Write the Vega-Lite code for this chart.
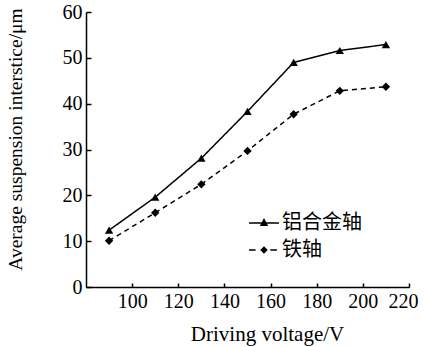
{
  "$schema": "https://vega.github.io/schema/vega-lite/v6.json",
  "autosize": "none",
  "width": 323,
  "height": 275,
  "padding": {"left": 86, "top": 12, "right": 15, "bottom": 60},
  "background": "white",
  "config": {"view": {"stroke": null}},
  "data": {"values": [
    {"series": "铝合金轴", "voltage": 90, "value": 12.4},
    {"series": "铝合金轴", "voltage": 110, "value": 19.6},
    {"series": "铝合金轴", "voltage": 130, "value": 28.1},
    {"series": "铝合金轴", "voltage": 150, "value": 38.3},
    {"series": "铝合金轴", "voltage": 170, "value": 49.0},
    {"series": "铝合金轴", "voltage": 190, "value": 51.6},
    {"series": "铝合金轴", "voltage": 210, "value": 52.9},
    {"series": "铁轴", "voltage": 90, "value": 10.1},
    {"series": "铁轴", "voltage": 110, "value": 16.2},
    {"series": "铁轴", "voltage": 130, "value": 22.4},
    {"series": "铁轴", "voltage": 150, "value": 29.7},
    {"series": "铁轴", "voltage": 170, "value": 37.7},
    {"series": "铁轴", "voltage": 190, "value": 42.8},
    {"series": "铁轴", "voltage": 210, "value": 43.7}
  ]},
  "encoding": {
    "x": {"field": "voltage", "type": "quantitative",
      "scale": {"domain": [80, 220], "nice": false, "zero": false},
      "axis": {"title": "Driving voltage/V", "values": [100, 120, 140, 160, 180, 200, 220],
        "grid": false, "domainColor": "black", "domainWidth": 1.5, "tickColor": "black", "tickWidth": 1.5,
        "tickSize": -4, "labelPadding": 8, "labelFont": "Liberation Serif", "labelFontSize": 20, "labelColor": "black",
        "labelFlush": true, "labelFlushOffset": 9,
        "titleFont": "Liberation Serif", "titleFontSize": 21, "titleFontWeight": "normal", "titleColor": "black",
        "titleX": 181, "titleY": 36}},
    "y": {"field": "value", "type": "quantitative",
      "scale": {"domain": [0, 60], "nice": false},
      "axis": {"title": "Average suspension interstice/μm", "values": [0, 10, 20, 30, 40, 50, 60],
        "grid": false, "domainColor": "black", "domainWidth": 1.5, "tickColor": "black", "tickWidth": 1.5,
        "tickSize": -5, "labelPadding": 9, "labelFont": "Liberation Serif", "labelFontSize": 20, "labelColor": "black",
        "labelFlush": false,
        "titleFont": "Liberation Serif", "titleFontSize": 19.5, "titleFontWeight": "normal", "titleColor": "black",
        "titleX": -61, "titleY": 127}}
  },
  "resolve": {"scale": {"shape": "independent"}, "legend": {"shape": "independent"}},
  "layer": [
    {
      "mark": {"type": "line", "color": "black", "strokeWidth": 1.5},
      "encoding": {
        "strokeDash": {"field": "series", "type": "nominal",
          "scale": {"domain": ["铁轴", "铝合金轴"], "range": [[5, 4], [1, 0]]}, "legend": null}
      }
    },
    {
      "mark": {"type": "point", "filled": true, "color": "black", "opacity": 1, "size": 70},
      "encoding": {
        "shape": {"field": "series", "type": "nominal",
          "scale": {"domain": ["铁轴", "铝合金轴"], "range": ["diamond", "triangle-up"]},
          "legend": null}
      }
    },
    {
      "transform": [{"filter": "false"}],
      "mark": {"type": "point", "filled": true, "fill": "black", "opacity": 1},
      "encoding": {
        "shape": {"field": "series", "type": "nominal",
          "scale": {"domain": ["铝合金轴", "铁轴"], "range": [
            "M-1.07,-0.055H1.07V0.055H-1.07ZM-0.3,0.22L0,-0.35L0.3,0.22Z",
            "M-1.07,-0.055H-0.6V0.055H-1.07ZM0.45,-0.055H0.92V0.055H0.45ZM-0.27,0L0,-0.27L0.27,0L0,0.27Z"]},
          "legend": {
            "title": null, "orient": "none", "legendX": 163, "legendY": 196, "padding": 0,
            "symbolSize": 784, "rowPadding": 2, "labelOffset": 3,
            "symbolFillColor": "black", "symbolOpacity": 1,
            "labelFont": "Noto Sans CJK SC", "labelFontSize": 20, "labelColor": "black"
          }}
      }
    }
  ]
}
